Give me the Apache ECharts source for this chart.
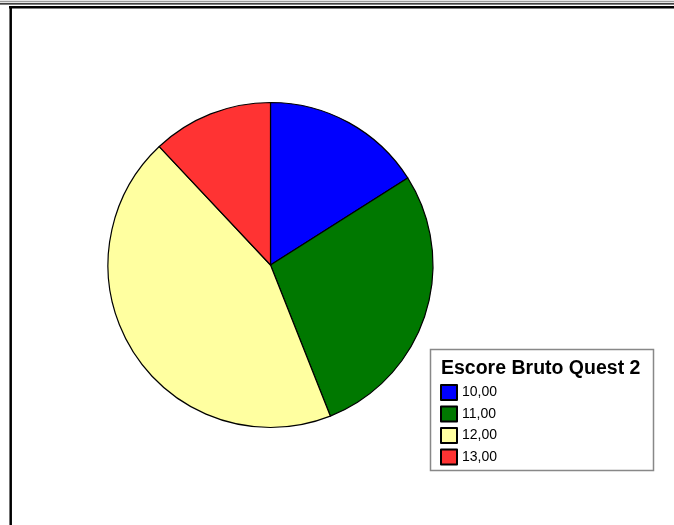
<!DOCTYPE html>
<html>
<head>
<meta charset="utf-8">
<title>Escore Bruto Quest 2</title>
<script src="https://cdn.jsdelivr.net/npm/echarts@6/dist/echarts.min.js"></script>
<style>
  html, body { margin: 0; padding: 0; background: #fff; }
  #chart { width: 674px; height: 525px; }
</style>
</head>
<body>
<div id="chart"></div>
<script>
// Score categories and their frequencies
const categories = ['10,00', '11,00', '12,00', '13,00'];
const counts = [4, 7, 11, 3];
const colors = ['#0000FF', '#007800', '#FFFFA0', '#FF3333'];
const legendTitle = 'Escore Bruto Quest 2';

const chart = echarts.init(document.getElementById('chart'), null, { renderer: 'canvas' });

const pieData = categories.map((name, i) => ({
  name: name,
  value: counts[i],
  itemStyle: { color: colors[i] }
}));

chart.setOption({
  animation: false,
  backgroundColor: '#ffffff',
  title: {
    text: legendTitle,
    left: 441,
    top: 359,
    textStyle: {
      fontFamily: 'Liberation Sans, Arial, sans-serif',
      fontWeight: 'bold',
      fontSize: 19.5,
      color: '#000'
    },
    padding: 0
  },
  legend: {
    orient: 'vertical',
    left: 440,
    top: 384,
    padding: 0,
    itemWidth: 16,
    itemHeight: 15,
    itemGap: 4.5,
    icon: 'rect',
    selectedMode: false,
    data: categories,
    textStyle: {
      fontFamily: 'Liberation Sans, Arial, sans-serif',
      fontSize: 14,
      color: '#000'
    }
  },
  graphic: [
    // outer frame lines
    { type: 'line', shape: { x1: 0, y1: 1.5, x2: 674, y2: 1.5 }, style: { stroke: '#999', lineWidth: 1.5 }, silent: true },
    { type: 'line', shape: { x1: 0, y1: 3.8, x2: 674, y2: 3.8 }, style: { stroke: '#000', lineWidth: 1.2 }, silent: true },
    { type: 'line', shape: { x1: 9, y1: 7.2, x2: 674, y2: 7.2 }, style: { stroke: '#000', lineWidth: 2.5 }, silent: true },
    { type: 'line', shape: { x1: 10.7, y1: 6, x2: 10.7, y2: 525 }, style: { stroke: '#000', lineWidth: 2.5 }, silent: true },
    // legend box
    { type: 'rect', z: -1, shape: { x: 430.5, y: 349.5, width: 223, height: 121 }, style: { fill: '#fff', stroke: '#888', lineWidth: 1.5 }, silent: true }
  ],
  series: [{
    type: 'pie',
    center: [270.5, 265],
    radius: [0, 162.5],
    startAngle: 90,
    clockwise: true,
    avoidLabelOverlap: false,
    label: { show: false },
    labelLine: { show: false },
    emphasis: { disabled: true },
    itemStyle: { borderColor: '#000', borderWidth: 1.2 },
    data: pieData
  }]
});
</script>
</body>
</html>
